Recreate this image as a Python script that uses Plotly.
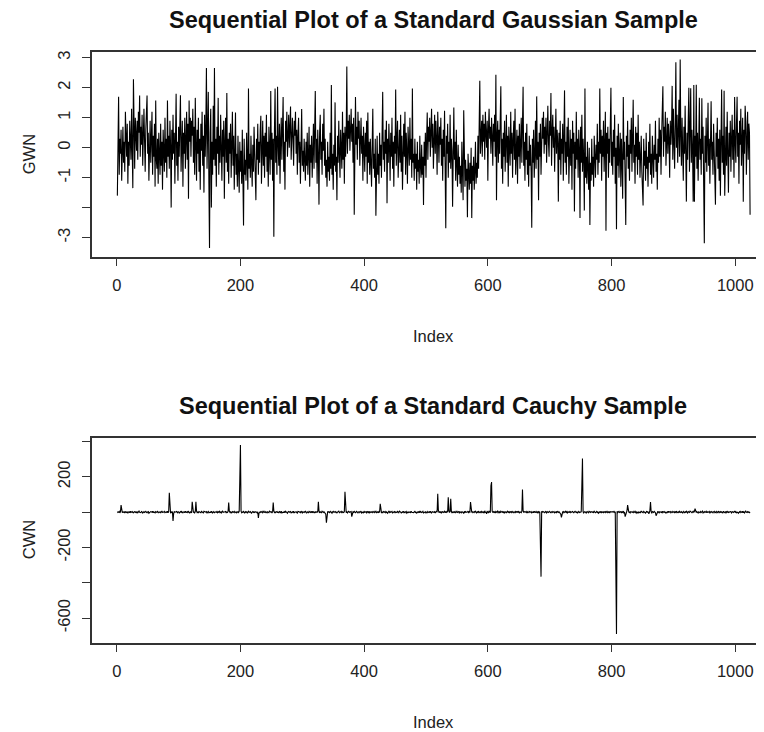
import plotly.graph_objects as go

# ---------------- data ----------------
gwn = [
    -1.6, -0.4, 1.7, -0.9, 0.3, -0.2, 0.6, -1.1, 0.1, 0.7, -0.5, 0.2, -0.8, 1.2, 0.4, -0.3,
    0.8, -1.2, 0.2, -0.6, 0.9, 0.1, -0.4, 1.3, -0.2, -1.35, 2.28, 0.5, -0.7, 1.0, 0.3, -0.1,
    0.9, -0.4, 1.2, 0.5, 1.74, -0.3, 0.7, 0.1, 1.1, -0.6, 0.4, 1.3, 0.2, -0.8, 0.6, 1.0,
    1.74, -0.2, 0.5, -1.1, 0.3, 0.9, -0.5, 0.1, 1.2, -0.9, 0.4, -0.3, 0.8, -1.3, 1.57, -0.4,
    -0.7, 0.3, -1.2, 0.5, -0.3, -0.9, 0.8, -0.6, 0.2, -1.4, 0.6, -0.1, -0.8, 1.0, -0.5, 0.3,
    -1.0, 1.57, -0.3, 0.4, -0.7, 0.9, 0.1, -2.0, 0.6, -0.4, 1.1, -0.2, 0.5, -1.2, 0.3, 1.8,
    -0.6, 0.2, -1.1, 0.7, -0.3, 0.4, 1.75, -0.8, 0.1, 0.9, -1.3, 0.5, -0.2, 1.0, -0.7, 0.3,
    1.2, -0.4, 0.8, -1.7, 1.57, 0.2, 1.0, -0.3, 0.9, 0.4, 1.3, -0.5, 0.7, -0.9, 1.66, 0.1,
    -1.1, 0.6, -0.2, 1.0, -0.8, 0.3, -1.4, 0.8, -0.1, 1.2, -0.6, 0.4, -1.5, 1.1, -0.3, 0.6,
    2.66, -0.7, 0.9, 1.86, -1.2, -3.35, 0.5, 1.3, -2.0, 0.2, -0.9, 1.4, -0.4, 2.66, -0.6, 0.3,
    -1.3, 0.7, -0.2, 1.66, -0.9, 0.4, -0.5, 1.1, 0.0, -1.1, 0.6, -0.3, 0.9, -1.7, 0.2, 1.0,
    -0.5, 1.82, -0.8, 0.3, -1.2, 0.5, -0.2, 0.8, -1.0, 0.1, 1.2, -0.6, 0.4, -1.4, -0.3, 1.17,
    -0.9, -0.2, -1.3, 0.4, -0.7, -1.5, 0.2, -0.8, -0.1, -1.2, 0.6, -0.5, -2.6, 0.3, -0.9, -0.4,
    -1.1, 0.5, -0.6, -1.4, 1.97, -0.7, -0.2, -1.0, 0.4, -0.5, -1.3, 0.1, -0.8, 0.7, -0.3, -1.1,
    -1.75, 0.3, -0.4, 0.8, -0.9, 0.2, -0.5, 0.6, 1.06, -1.2, 0.0, 0.9, -0.6, 0.4, -1.0, 0.5,
    -0.3, 1.1, -0.8, 0.2, -1.3, 0.7, -0.1, -0.9, 1.89, -0.4, 0.5, -1.1, 0.3, -2.97, 0.6, 1.97,
    -0.5, 0.4, -0.9, 2.03, 0.1, -0.6, 0.8, -1.2, 0.3, 1.0, -0.4, 0.6, 1.69, -0.8, 0.2, -1.4,
    0.9, 0.2, 1.2, -0.3, 0.7, 1.1, 0.0, 0.8, 1.37, -0.4, 0.5, 1.0, 0.3, -0.6, 0.9, 0.4,
    1.2, -0.2, 0.6, -0.9, 0.4, 1.0, -0.5, 0.2, -1.2, 0.7, 1.29, -0.6, -0.1, -0.8, 0.3, -0.4,
    -1.1, 0.2, -0.6, 0.5, -0.9, -0.2, 0.7, -1.3, 0.1, -0.5, 0.4, -1.0, -0.3, 0.8, -0.7, 0.2,
    1.89, -0.5, 0.3, -1.2, 0.6, -0.2, -1.9, 0.5, 1.1, -0.4, 0.2, -0.9, 0.8, -0.1, 1.3, -0.6,
    0.3, -1.0, -0.4, -1.3, 0.2, -0.8, -0.3, -1.1, 0.5, -0.7, 2.09, -0.9, -0.2, -1.4, 0.1, -0.6,
    1.51, -0.8, -0.3, -1.75, 0.4, -0.5, 0.9, -0.2, -1.0, 0.6, 0.0, -0.7, 1.2, -0.4, 0.5, -1.2,
    0.7, -0.3, 0.4, 2.71, -0.2, 0.9, 0.3, 1.1, -0.1, 0.6, 1.3, 0.2, 0.8, -0.5, 1.0, -2.24,
    0.5, 1.69, 0.1, 0.7, -0.4, 1.2, 0.3, 0.9, -0.6, 0.6, 1.0, -0.2, 0.4, -1.1, 0.7, 0.0,
    -0.8, 0.5, -0.3, 0.9, -1.2, 1.17, -0.5, 0.2, -0.9, 0.3, -0.6, -1.3, 0.1, 1.3, -0.7, -0.2,
    -1.0, 0.3, -2.27, -0.4, 0.4, -0.9, -0.2, -1.2, 0.5, -0.6, 0.1, -1.0, 0.6, 1.86, -0.4, 0.2,
    -0.8, 0.6, -0.2, 0.9, -1.85, 0.3, -0.5, 0.8, 0.0, -1.1, 0.5, -0.3, 1.0, -0.7, 0.2, -1.3,
    0.4, -0.2, 1.94, -0.6, 0.3, 0.9, -1.0, 0.1, 0.6, -0.5, 1.1, -0.8, 0.4, -1.4, 0.2, 0.8,
    -0.3, 1.2, -0.9, 0.5, -0.1, -1.2, 0.7, 0.0, -0.6, 1.0, -0.4, 0.3, -1.0, 1.97, -0.5, -0.2,
    -1.1, 0.3, -0.7, -0.2, -1.4, 0.2, -0.8, -0.4, -1.2, 0.4, -0.6, -1.0, 0.1, -0.9, -0.3, -1.91,
    0.2, -0.6, 0.5, -1.0, 0.3, 1.17, -0.4, 0.7, 0.2, 1.0, -0.3, 0.6, 1.3, 0.0, 0.8, -0.7,
    0.5, 1.1, -0.2, 0.9, 0.3, -0.9, 1.2, 0.4, -0.5, 0.7, 0.1, 1.0, -0.6, 0.3, -1.1, 0.6,
    -0.3, 1.23, -0.8, -2.69, 0.4, -0.2, 0.8, -1.0, 0.2, -0.5, 1.1, -0.7, 0.3, -0.1, -1.97, 0.5,
    1.34, -0.4, 0.2, -1.1, 0.6, -0.6, -1.3, 0.1, -0.9, -0.3, -1.2, -0.6, -1.5, 0.2, -0.9, -1.75,
    1.25, -0.8, -1.3, -0.4, -1.1, -0.7, -2.32, -0.2, -1.0, -1.4, -0.5, -1.2, 0.0, -2.35, -0.6, -1.1,
    -0.3, -1.4, -0.8, 0.2, -1.2, -0.5, -1.0, 0.4, -0.7, 0.6, 2.23, -0.2, 0.5, 0.9, -0.3, 1.1,
    0.2, 0.8, -0.4, 1.2, 0.5, 0.0, 0.9, -1.1, 0.6, 1.3, 0.3, 0.7, -0.2, 1.0, 0.4, -0.6,
    0.8, 0.2, 1.1, -0.3, 2.43, -1.75, 0.4, 0.9, -0.5, 0.6, -0.2, 1.0, 2.05, -0.7, 0.3, -1.2,
    0.5, -0.3, 0.9, -0.8, 0.2, 1.1, -0.5, 0.4, -1.3, 0.7, 0.0, -0.6, 1.2, -0.2, 0.5, -1.0,
    0.3, 0.9, -0.4, 1.3, -0.9, 0.1, 0.6, -1.2, 0.4, -0.3, 0.8, -0.7, 0.2, 1.0, -0.5, 0.3,
    2.03, -0.6, 0.2, -1.1, 0.5, -0.4, 0.8, -0.9, -0.1, -1.3, 0.4, -0.6, 0.1, -0.8, -2.67, 0.3,
    -0.5, 0.6, -1.0, -0.2, 0.9, -0.7, 1.71, -0.4, 0.2, -1.75, 0.5, -0.3, 0.8, -0.9, 0.1, 1.0,
    0.3, 1.2, -0.2, 0.7, 0.1, 1.0, -0.5, 0.6, 1.4, 0.2, -0.3, 0.9, 0.4, 1.82, -0.6, 0.5,
    1.1, 0.0, 0.7, -0.8, 0.4, 1.3, -0.2, 0.6, 0.2, -1.8, 0.5, -0.4, 0.9, -0.9, 0.3, -0.2,
    0.8, -1.1, 0.4, 1.91, -0.5, 0.2, -0.9, 0.7, -0.3, 1.0, -1.2, 0.1, 0.6, -0.6, 0.3, -1.4,
    0.9, -0.2, 0.5, -2.13, 0.2, -0.7, 1.2, -0.4, 0.3, -1.0, 0.6, 0.0, -2.35, 0.7, -0.5, 1.1,
    -0.8, 0.3, -0.4, -2.1, 1.97, -1.0, -0.3, -1.2, 0.2, -0.7, -1.4, 0.0, -2.58, -0.5, -1.1, 0.3,
    -0.9, -0.3, -1.3, 0.4, -0.6, -1.0, 0.1, -0.4, 0.8, -0.9, 0.2, -0.5, 1.97, -0.2, 0.6, -1.1,
    0.4, -0.3, 0.9, -0.8, 0.1, 1.2, -2.77, 0.5, -0.2, 0.7, -1.0, 0.3, -0.5, 1.0, 2.0, -0.6,
    0.2, -0.9, 0.6, -0.3, 1.1, -1.2, 0.0, -2.72, 0.4, -0.6, 0.8, -1.0, -0.2, 0.5, -1.3, 0.3,
    -0.5, -1.7, 1.69, -0.4, 0.2, -0.9, -2.58, 0.4, -0.3, 0.9, -0.7, 0.1, -1.1, 0.6, -0.2, 1.0,
    -0.8, 0.3, 1.6, -0.5, 0.1, -1.2, 0.7, -0.3, 0.5, -0.9, 1.1, -0.4, 0.2, -1.0, -0.3, 0.4,
    -0.8, -1.9, -1.93, 0.3, -0.6, -0.1, -1.1, 0.5, -0.7, -0.3, -1.3, 0.2, -0.5, 0.8, -0.9, -0.2,
    -1.2, 0.4, -0.6, -1.0, 0.1, -0.4, 0.9, -0.8, -0.2, -1.4, 0.3, -0.5, 1.0, -0.3, 0.6, -0.9,
    0.4, 1.1, 2.05, -0.3, 0.7, 0.2, 1.2, -0.6, 0.5, 1.0, -0.2, 0.8, 0.3, -1.0, 0.9, 0.1,
    0.6, 2.06, -0.4, 1.3, 0.2, -0.7, 0.8, 2.85, 0.0, 1.1, -0.5, 0.6, 1.6, -0.3, 2.94, 0.4,
    -0.6, 1.0, 0.2, -1.1, 0.7, -0.2, 1.4, 0.3, -1.8, 0.5, -0.4, 0.9, 2.0, -0.8, 0.1, 1.98,
    -0.5, 0.6, -0.1, -1.8, 2.09, -1.8, 0.4, -0.3, 2.1, -0.7, 0.5, -1.1, 0.2, 1.66, -0.4, 0.3,
    -0.9, 1.65, -0.2, 0.7, -1.3, -3.19, 0.4, -0.5, 1.0, -0.8, 0.2, 1.5, -0.6, 0.3, -1.2, 0.6,
    1.55, -0.4, 0.2, -0.9, 0.8, -0.1, -1.6, -1.9, 0.5, -0.3, 1.0, -0.7, 0.3, -1.1, 0.6, -1.6,
    0.2, 1.94, -0.5, 0.4, -0.9, 1.9, -1.6, 0.1, 0.7, -0.6, 1.2, -0.2, -1.5, 0.5, -0.3, 0.9,
    -0.8, 0.3, 1.1, -0.4, 0.6, -1.0, 1.69, 0.2, -0.5, 0.8, 1.7, -0.3, 0.5, -1.2, 0.9, 0.1,
    1.3, -0.6, 0.4, 1.0, -1.8, 0.6, -0.2, 1.4, 0.87, -0.9, 0.3, 1.2, -0.4, 0.8, 0.5, -2.24,
]

cwn = [
    3, -2, 1, 5, -4, 2, 40, 6, -3, 1, -1, 4, -5, 2, 0, -2, 3, -6, 1, 2, -3, 5, -1, 0, 4, -2, -4, 1, 3, -1, 2, -3,
    1, -4, 2, 6, -1, 0, -3, 4, 2, -5, 1, 3, -2, 0, 5, -1, -3, 2, 4, -6, 1, 0, 3, -2, -1, 5, -3, 2, 0, -4, 3, 1,
    -2, 4, 1, -3, 0, 2, -5, 3, 6, -1, -2, 1, 4, -3, 0, 2, -1, 5, -4, 3, 110, 2, -6, 1, -2, 4, -50, -8, 3, 0, -1, 2,
    4, -3, 1, 2, -5, 0, 3, -1, 6, -2, -4, 1, 2, -3, 5, 0, -1, 3, -2, 4, 1, -6, 2, 0, -3, 59, 8, -2, 1, -4, 3, 59,
    6, -2, 1, -5, 3, 0, 2, -3, 4, 1, -1, -4, 5, 2, -2, 0, 3, -6, 1, 4, -3, 2, 0, -1, 5, -2, -4, 3, 1, -3, 2, 0,
    -1, 4, -3, 2, 0, 5, -2, 1, -4, 3, 6, -1, 0, -3, 2, 4, -5, 1, -2, 3, 55, 7, -1, 2, -6, 0, 3, -2, 1, 4, -3, 0,
    2, -4, 1, 3, -2, 5, 190, 380, 6, -3, 1, -2, 4, 0, -5, 3, -1, 2, -4, 1, 5, -2, 0, 3, -3, -6, 1, 4, -1, 2, -2, 0,
    3, -1, -4, 2, -32, -6, 1, 3, -2, 0, 4, -3, 1, 5, -1, -2, 3, 0, -4, 2, 1, -3, 6, -1, 0, 2, -5, 3, 55, 6, -2, 1,
    -3, 2, 4, -1, 0, -5, 3, 1, -2, 6, -4, 2, 0, -1, 3, -3, 5, 1, -2, -6, 2, 4, -1, 0, 3, -4, 1, 2, -2, 5, -3, 0,
    1, 3, -2, -5, 4, 0, 2, -1, -3, 6, 1, -4, 2, 0, -2, 3, 5, -1, -6, 2, 1, -3, 4, 0, -2, 3, -1, 5, -4, 2, 0, -3,
    4, -2, 1, 3, -1, 59, 9, -4, 2, 0, -3, 5, 1, -2, 3, -1, -5, -12, -60, -4, 2, 0, 3, -3, 1, 4, -2, -6, 2, 0, 5, -1,
    -2, 3, 1, -4, 0, 2, 6, -3, 1, -1, 4, -5, 2, 0, -2, 3, 116, 10, -3, 1, -4, 2, 5, -1, 0, -2, 3, -25, -8, 2, -1, 4,
    0, -3, 2, 5, -1, -4, 1, 3, -2, 0, 6, -5, 2, 1, -3, 4, -1, 0, 2, -6, 3, 1, -2, 5, -4, 0, 2, -1, 3, -3, 1, 4,
    -2, 1, 5, -3, 0, 2, -4, 3, 1, 47, 6, -2, 0, -5, 3, 1, -1, 4, -3, 2, 0, -6, 1, 5, -2, 3, -1, 0, 4, -4, 2, 1,
    3, -5, 1, 0, -2, 4, 2, -3, 6, -1, 0, -4, 3, 2, -2, 5, -1, -3, 1, 4, -6, 0, 2, -2, 3, 1, -4, 5, 0, -1, 2, -3,
    1, 4, -2, 0, -5, 3, 2, -1, 4, -3, 6, 0, -2, 1, 5, -4, -1, 3, 2, -6, 0, 4, -3, 1, 2, -1, 5, -2, -4, 3, 0, 2,
    -1, 3, -4, 2, 5, 0, 104, 12, -3, 2, -1, 4, -6, 1, 3, -2, 0, 5, -3, 2, -1, 4, 0, 85, 9, -2, 3, 76, 6, -5, 1, -2,
    2, -1, 4, -3, 0, 5, -2, 1, 3, -6, 2, 0, -4, 3, 1, -2, -8, 5, -3, 4, 0, -1, 2, 6, -5, 3, 1, 57, 7, -2, 4, -3,
    0, 3, -2, 5, 1, -4, 2, -1, 6, -3, 0, 2, -5, 4, 1, -2, 3, -6, 8, -3, 2, -10, 4, 1, -2, 5, 0, -3, 150, 171, 6, -2,
    3, -1, 2, -5, 4, 0, -2, 6, 1, -3, 2, -4, 5, 0, -1, 3, -2, 4, -6, 1, 2, -3, 0, 5, -1, 2, -4, 3, 1, -2, 6, 0,
    -3, 2, 1, -5, 4, 0, 3, -2, 6, -1, -4, 2, 1, -3, 5, 128, 10, -2, 3, -1, 0, 4, -5, 2, -3, 1, 6, -2, 0, 3, -4, 1,
    2, -3, 5, 0, -1, 4, -2, 1, -6, 3, 0, 3, -190, -365, 5, -2, 4, -1, 0, -3, 2, 6, -4, 1, 3, -2, 0, 5, -1, -3, 2, 4,
    -2, 1, 3, -4, 0, 2, -5, 6, 1, -2, 3, -1, -8, -12, -30, -6, 2, 4, -3, 1, 0, 5, -2, 3, -4, 1, 2, -1, 6, -3, 0, 2,
    4, -1, -3, 2, 5, 0, -2, 3, -6, 1, 4, -2, 0, 3, 2, 150, 304, 2, -4, 1, 3, -1, -5, 2, 0, 4, -3, 1, 6, -2, 0, 3,
    -1, 2, -4, 5, 1, -3, 0, 4, -2, 3, -6, 1, 2, -1, 5, -3, 0, 2, -4, 3, 1, -2, 6, 0, -3, 4, -1, 2, -5, 3, 0, 1,
    3, -2, 0, 4, -1, 2, -360, -690, 5, -3, 1, 4, -2, 0, 3, -5, 2, -1, 6, -4, 0, -25, -12, 3, 8, 40, 6, -2, 1, -4, 3, 0,
    2, -1, 4, -3, 0, 5, -2, 1, -6, 3, 2, -4, 0, 1, -2, 5, 3, -1, -3, 4, 0, 2, -5, 1, 6, -2, 3, -8, -4, 10, 57, 4,
    -6, 3, 1, -2, 4, 0, -3, -20, -10, 2, 5, -1, -4, 3, 0, 2, -2, 6, -3, 1, 4, -1, 0, -5, 3, 2, -2, 5, -1, 0, 3, -4,
    1, 4, -2, 0, 3, -5, 2, -1, 6, -3, 0, 2, -4, 5, 1, -2, 3, 0, -6, 4, 1, -3, 2, -1, 5, 0, -4, 3, 2, -2, 6, -1,
    0, -3, 2, 5, -1, 4, 20, 6, -2, 3, 1, -5, 2, 0, -3, 4, -1, 2, 6, -4, 0, 3, -2, 1, 5, -3, 2, -1, 0, 4, -6, 2,
    -1, 3, 0, -4, 2, 5, -2, 1, -3, 4, 0, -5, 6, 1, -2, 3, -1, 2, -4, 0, 5, -3, 1, 2, -6, 3, 0, 4, -2, 1, -1, 3,
    2, -4, 1, 3, -2, 0, 5, -1, 4, -3, 2, 0, -6, 1, 3, -2, 4, 0, -1, 5, -3, 2, -4, 1, 6, 0, -2, 3, -1, 2, -3, 1,
]

x_ticks = [0, 200, 400, 600, 800, 1000]
gwn_ticks = [-3, -2, -1, 0, 1, 2, 3]
gwn_tick_text = ["-3", "", "-1", "0", "1", "2", "3"]
cwn_ticks = [-600, -400, -200, 0, 200, 400]
cwn_tick_text = ["-600", "", "-200", "", "200", ""]

title_top = "Sequential Plot of a Standard Gaussian Sample"
title_bottom = "Sequential Plot of a Standard Cauchy Sample"

# ---------------- layout ----------------
WIN_W, WIN_H = 764, 732
OFF = 8                      # page body margin of the browser
W, H = WIN_W - OFF, WIN_H - OFF
FONT = "Liberation Sans, Arial, Helvetica, sans-serif"
AX = "#333333"


def fx(p):   # window pixel x -> paper
    return (p - OFF) / W


def fy(p):   # window pixel y -> paper
    return 1 - (p - OFF) / H


px_left = 92
x_dom = [fx(px_left), 1.0]
x_range = [-40, -40 + (WIN_W - px_left) / 0.6185]

top_box = (52, 256.5)
bot_box = (438, 642.5)

idx_g = list(range(1, len(gwn) + 1))
idx_c = list(range(1, len(cwn) + 1))

fig = go.Figure()
fig.add_trace(go.Scatter(x=idx_g, y=gwn, mode="lines",
                         line=dict(color="#000000", width=1.1),
                         xaxis="x", yaxis="y", showlegend=False))
fig.add_trace(go.Scatter(x=idx_c, y=cwn, mode="lines",
                         line=dict(color="#000000", width=1.1),
                         xaxis="x2", yaxis="y2", showlegend=False))

tickfont = dict(family=FONT, size=16.5, color="#222222")

common_x = dict(range=x_range, domain=x_dom, showline=True, mirror=True,
                linecolor=AX, linewidth=1.5, ticks="outside", ticklen=8,
                tickwidth=1.3, tickcolor=AX, tickvals=x_ticks, tickfont=tickfont,
                showgrid=False, zeroline=False, ticklabelstandoff=5)
common_y = dict(showline=True, linecolor=AX, linewidth=1.5, ticks="outside",
                ticklen=8, tickwidth=1.3, tickcolor=AX, tickfont=tickfont,
                tickangle=-90, showgrid=False, zeroline=False,
                ticklabelstandoff=6)

fig.update_layout(
    width=W, height=H,
    margin=dict(l=0, r=0, t=0, b=0),
    paper_bgcolor="white", plot_bgcolor="white",
    xaxis=dict(anchor="y", **common_x),
    yaxis=dict(anchor="x", domain=[fy(top_box[1]), fy(top_box[0])],
               range=[-3.63, 3.19], tickvals=gwn_ticks, ticktext=gwn_tick_text,
               **common_y),
    xaxis2=dict(anchor="y2", **common_x),
    yaxis2=dict(anchor="x2", domain=[fy(bot_box[1]), fy(bot_box[0])],
                range=[-738, 420], tickvals=cwn_ticks, ticktext=cwn_tick_text,
                **common_y),
)

cx = fx((px_left + 775) / 2)
ann = []
for title, ty in [(title_top, 20), (title_bottom, 406)]:
    ann.append(dict(text="<b>%s</b>" % title, x=cx, y=fy(ty), xref="paper", yref="paper",
                    xanchor="center", yanchor="middle", showarrow=False,
                    font=dict(family=FONT, size=23.5, color="#111111")))
for ly in [336, 722]:
    ann.append(dict(text="Index", x=cx, y=fy(ly), xref="paper", yref="paper",
                    xanchor="center", yanchor="middle", showarrow=False,
                    font=dict(family=FONT, size=16.5, color="#222222")))
for lab, box in [("GWN", top_box), ("CWN", bot_box)]:
    ann.append(dict(text=lab, x=fx(29), y=fy((box[0] + box[1]) / 2), xref="paper",
                    yref="paper", xanchor="center", yanchor="middle", textangle=-90,
                    showarrow=False, font=dict(family=FONT, size=16.5, color="#222222")))
fig.update_layout(annotations=ann)

fig.write_html("out.html")
